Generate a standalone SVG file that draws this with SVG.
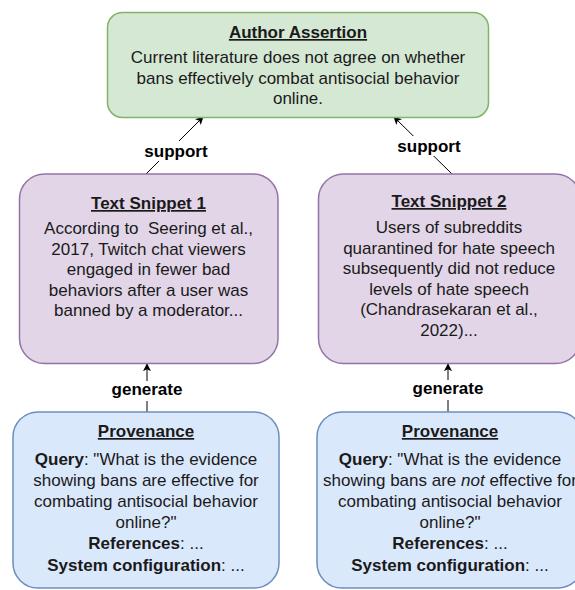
<svg xmlns="http://www.w3.org/2000/svg" width="575" height="590" viewBox="0 0 575 590">
<style>
text{font-family:"Liberation Sans",Arial,sans-serif;font-size:17px;fill:#1a1a1a;text-anchor:middle}
.t{font-weight:bold;text-decoration:underline}
.b{font-weight:bold}
.lbl{font-weight:bold;fill:#000}
.green{fill:#d5e8d4;stroke:#82b366;stroke-width:1.5}
.purple{fill:#e1d5e7;stroke:#9673a6;stroke-width:1.5}
.blue{fill:#dae8fc;stroke:#6c8ebf;stroke-width:1.5}
.edge{stroke:#000;stroke-width:1;fill:none}
</style>
<defs>
<marker id="arr" viewBox="0 0 10 10" refX="9" refY="5" markerWidth="8" markerHeight="8" markerUnits="userSpaceOnUse" orient="auto">
<path d="M0,0 L10,5 L0,10 L2.5,5 Z" fill="#000"/>
</marker>
</defs>
<g id="connectors">
<line class="edge" x1="146" y1="174" x2="203" y2="117" marker-end="url(#arr)"/>
<rect x="143" y="141" width="66" height="20" fill="#fff"/>
<text class="lbl" x="176" y="157">support</text>
<line class="edge" x1="452" y1="174" x2="394" y2="117" marker-end="url(#arr)"/>
<rect x="396" y="136" width="66" height="20" fill="#fff"/>
<text class="lbl" x="429" y="152">support</text>
<line class="edge" x1="147" y1="412" x2="147" y2="364" marker-end="url(#arr)"/>
<rect x="110" y="381" width="74" height="20" fill="#fff"/>
<text class="lbl" x="147" y="395">generate</text>
<line class="edge" x1="448" y1="412" x2="448" y2="364" marker-end="url(#arr)"/>
<rect x="411" y="380" width="74" height="20" fill="#fff"/>
<text class="lbl" x="448" y="394">generate</text>
</g>
<g id="author-assertion">
<rect class="green" x="107.5" y="12.5" width="381" height="105" rx="15"/>
<text class="t" x="298" y="38">Author Assertion</text>
<text x="298" y="63">Current literature does not agree on whether</text>
<text x="298" y="83.5">bans effectively combat antisocial behavior</text>
<text x="298" y="104">online.</text>
</g>
<g id="text-snippet-1">
<rect class="purple" x="19.5" y="174" width="258.5" height="189.5" rx="25"/>
<text class="t" x="148.5" y="209">Text Snippet 1</text>
<text x="148.5" y="234" xml:space="preserve">According to  Seering et al.,</text>
<text x="148.5" y="254.5">2017, Twitch chat viewers</text>
<text x="148.5" y="275">engaged in fewer bad</text>
<text x="148.5" y="295.5">behaviors after a user was</text>
<text x="148.5" y="316">banned by a moderator...</text>
</g>
<g id="text-snippet-2">
<rect class="purple" x="318.5" y="174" width="262" height="189.5" rx="25"/>
<text class="t" x="449" y="207">Text Snippet 2</text>
<text x="449" y="233">Users of subreddits</text>
<text x="449" y="253.5">quarantined for hate speech</text>
<text x="449" y="274">subsequently did not reduce</text>
<text x="449" y="294.5">levels of hate speech</text>
<text x="449" y="315">(Chandrasekaran et al.,</text>
<text x="449" y="335.5">2022)...</text>
</g>
<g id="provenance-1">
<rect class="blue" x="13" y="412" width="266" height="176" rx="25"/>
<text class="t" x="146" y="437">Provenance</text>
<text x="146" y="465"><tspan class="b">Query</tspan>: "What is the evidence</text>
<text x="146" y="486">showing bans are effective for</text>
<text x="146" y="507">combating antisocial behavior</text>
<text x="146" y="528">online?"</text>
<text x="146" y="549"><tspan class="b">References</tspan>: ...</text>
<text x="146" y="571"><tspan class="b">System configuration</tspan>: ...</text>
</g>
<g id="provenance-2">
<rect class="blue" x="317" y="412" width="266" height="176" rx="25"/>
<text class="t" x="450" y="437">Provenance</text>
<text x="450" y="465"><tspan class="b">Query</tspan>: "What is the evidence</text>
<text x="450" y="486">showing bans are <tspan font-style="italic">not</tspan> effective for</text>
<text x="450" y="507">combating antisocial behavior</text>
<text x="450" y="528">online?"</text>
<text x="450" y="549"><tspan class="b">References</tspan>: ...</text>
<text x="450" y="571"><tspan class="b">System configuration</tspan>: ...</text>
</g>
</svg>
